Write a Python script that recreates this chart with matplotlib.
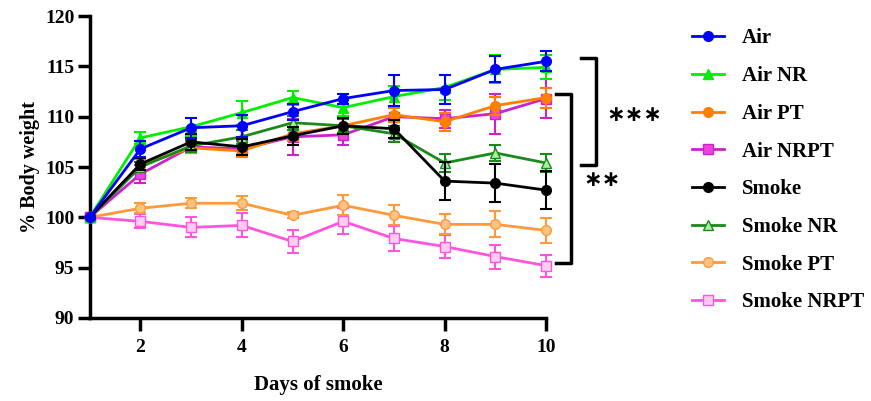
import matplotlib.pyplot as plt
from matplotlib.lines import Line2D

plt.rcParams['font.family'] = ['Liberation Serif', 'DejaVu Serif']
plt.rcParams['font.weight'] = 'bold'

days = [1, 2, 3, 4, 5, 6, 7, 8, 9, 10]

air = [100, 106.8, 108.9, 109.1, 110.5, 111.8, 112.6, 112.7, 114.7, 115.5]
air_nr = [100, 107.9, 109.0, 110.4, 111.9, 110.9, 112.0, 112.9, 114.7, 114.9]
air_pt = [100, 105.2, 106.9, 106.6, 108.3, 109.1, 110.2, 109.5, 111.1, 111.9]
air_nrpt = [100, 104.3, 107.0, 106.8, 108.0, 108.2, 110.0, 109.8, 110.3, 111.8]
smoke = [100, 105.3, 107.5, 107.0, 108.1, 109.1, 108.8, 103.6, 103.4, 102.7]
smoke_nr = [100, 105.0, 107.1, 108.0, 109.4, 109.1, 108.3, 105.4, 106.4, 105.4]
smoke_pt = [100, 100.9, 101.4, 101.4, 100.2, 101.2, 100.2, 99.3, 99.3, 98.7]
smoke_nrpt = [100, 99.6, 99.0, 99.2, 97.6, 99.6, 97.9, 97.1, 96.1, 95.2]

err_air = [0, 0.8, 1.0, 1.1, 0.8, 0.5, 1.5, 1.4, 1.3, 1.0]
err_air_nr = [0, 0.6, 0.9, 1.2, 0.7, 0.8, 1.0, 1.2, 1.4, 1.2]
err_air_pt = [0, 0.6, 0.5, 0.6, 0.7, 0.7, 0.7, 0.9, 0.9, 1.0]
err_air_nrpt = [0, 0.9, 0.6, 0.8, 1.8, 1.0, 1.0, 0.9, 2.0, 1.9]
err_smoke = [0, 0.6, 0.8, 0.8, 0.9, 0.8, 0.9, 1.9, 1.9, 1.9]
err_smoke_nr = [0, 0.5, 0.6, 0.7, 0.7, 0.7, 0.8, 0.9, 0.8, 0.9]
err_smoke_pt = [0, 0.5, 0.5, 0.7, 0.3, 1.0, 1.0, 1.0, 1.3, 1.2]
err_smoke_nrpt = [0, 0.7, 1.0, 1.2, 1.1, 1.3, 1.2, 1.1, 1.2, 1.1]

# label, values, errors, line colour, marker, marker face
groups = [
    ('Air', air, err_air, '#0000FF', 'o', '#0000FF'),
    ('Air NR', air_nr, err_air_nr, '#00EE00', '^', '#00EE00'),
    ('Air PT', air_pt, err_air_pt, '#FF7F00', 'o', '#FF7F00'),
    ('Air NRPT', air_nrpt, err_air_nrpt, '#CC22CC', 's', '#EE44DD'),
    ('Smoke', smoke, err_smoke, '#000000', 'o', '#000000'),
    ('Smoke NR', smoke_nr, err_smoke_nr, '#1A8A1A', '^', '#A8F0A0'),
    ('Smoke PT', smoke_pt, err_smoke_pt, '#FF9A3C', 'o', '#FFC285'),
    ('Smoke NRPT', smoke_nrpt, err_smoke_nrpt, '#FF55DD', 's', '#FFCDEF'),
]
zorders = [10, 9, 6, 5, 8, 7, 4, 3]

fig = plt.figure(figsize=(8.71, 4.01), dpi=100)
ax = fig.add_axes([0.103, 0.207, 0.524, 0.753])

handles = []
for (label, vals, errs, col, mk, face), z in zip(groups, zorders):
    ax.errorbar(days, vals, yerr=errs, color=col, marker=mk, markersize=7,
                markerfacecolor=face, markeredgecolor=col, linewidth=2,
                elinewidth=1.5, capsize=4, capthick=1.5,
                zorder=z, clip_on=False)
    handles.append(Line2D([], [], color=col, marker=mk, markersize=7,
                          markerfacecolor=face, markeredgecolor=col,
                          linewidth=2, label=label))

ax.set_xlim(1, 10)
ax.set_ylim(90, 120)
ax.set_xticks([2, 4, 6, 8, 10])
ax.set_yticks([90, 95, 100, 105, 110, 115, 120])
for s in ['top', 'right']:
    ax.spines[s].set_visible(False)
for s in ['left', 'bottom']:
    ax.spines[s].set_linewidth(2.5)
ax.tick_params(width=2.5, length=9, labelsize=14)
ax.tick_params(axis='x', pad=6)
ax.tick_params(axis='y', pad=2)
for t in ax.get_xticklabels() + ax.get_yticklabels():
    t.set_fontweight('bold')
ax.set_xlabel('Days of smoke', fontsize=15, fontweight='bold', labelpad=14)
ax.set_ylabel('% Body weight', fontsize=14.5, fontweight='bold', labelpad=4)

# significance brackets
ax.plot([10.68, 10.98, 10.98, 10.68], [115.8, 115.8, 105.2, 105.2],
        color='black', lw=2.5, clip_on=False)
ax.plot([10.2, 10.5, 10.5, 10.2], [112.3, 112.3, 95.5, 95.5],
        color='black', lw=2.5, clip_on=False)
ax.text(11.18, 110.2, '\u2217\u2217\u2217', fontsize=16, fontweight='bold',
        family='DejaVu Sans', ha='left', va='center')
ax.text(10.74, 103.7, '\u2217\u2217', fontsize=16, fontweight='bold',
        family='DejaVu Sans', ha='left', va='center')

fig.legend(handles=handles, loc='upper left', bbox_to_anchor=(0.785, 0.95),
           borderaxespad=0, frameon=False, prop={'weight': 'bold', 'size': 15},
           labelspacing=0.85, handlelength=1.55, handletextpad=0.85)

fig.savefig('out.png', dpi=100)
